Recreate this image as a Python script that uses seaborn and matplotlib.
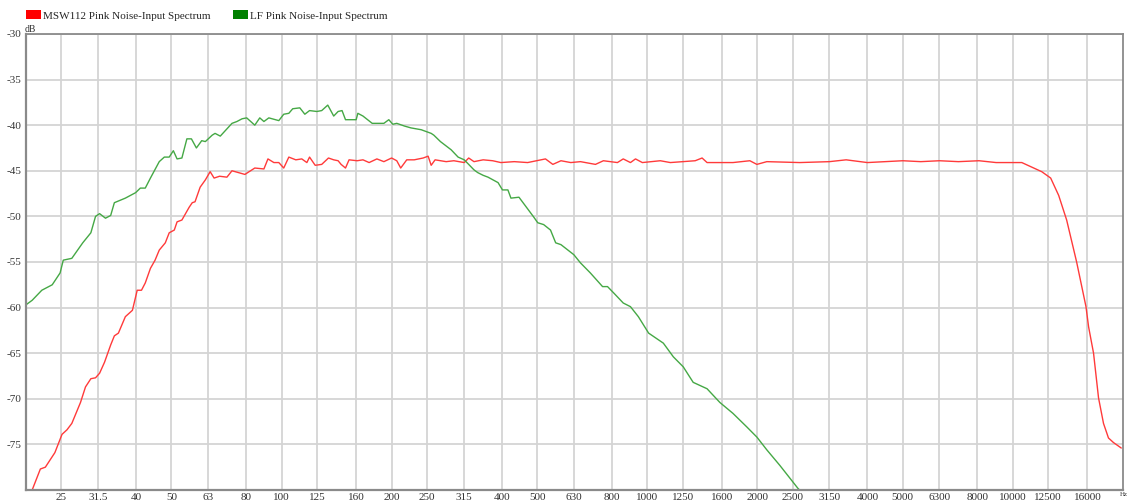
import numpy as np
import pandas as pd
import matplotlib
matplotlib.use('Agg')
import matplotlib.pyplot as plt
from matplotlib.patches import Patch
import seaborn as sns

RED_NAME = 'MSW112 Pink Noise-Input Spectrum'
GREEN_NAME = 'LF Pink Noise-Input Spectrum'

# frequency (Hz) / level (dB)
red_freq = [20.2, 20.8, 21.9, 22.6, 24.0, 25.1, 25.9, 26.7, 28.2, 29.1, 30.1, 31.0,
            31.8, 32.8, 34.1, 34.9, 35.8, 37.4, 38.6, 39.1, 40.3, 41.4, 42.4, 43.8,
            45.1, 46.3, 48.1, 49.3, 50.9, 51.8, 53.4, 55.9, 57.0, 58.0, 59.9, 61.9,
            63.8, 65.4, 67.7, 70.9, 73.2, 79.4, 84.5, 89.5, 91.8, 95.3, 98.3, 101.4,
            104.7, 109.4, 113.6, 117.3, 119.3, 123.6, 128.8, 134.4, 138.9, 142.8,
            145.5, 149.6, 153.0, 161, 167, 173.6, 182.3, 190.5, 200, 206.6, 211.8,
            220, 230.6, 244, 251.7, 256.6, 263, 282, 296, 316, 325, 336, 356, 378,
            398, 433, 471, 527, 552, 581, 618, 657, 722, 759, 829, 860, 900, 929,
            970, 1086, 1157, 1255, 1353, 1413, 1458, 1716, 1909, 1995, 2124, 2613,
            3150, 3500, 4000, 4500, 5000, 5600, 6300, 7100, 8080, 9000, 10580,
            11265, 11995, 12690, 13345, 14033, 14942, 15849, 16110, 16622, 17152,
            17697, 18261, 18845, 19790]
red_db = [-81.5, -80.0, -77.7, -77.5, -75.9, -73.9, -73.4, -72.7, -70.4, -68.7, -67.8, -67.7,
          -67.2, -66.0, -64.1, -63.1, -62.8, -61.0, -60.5, -60.3, -58.1, -58.1, -57.3, -55.7,
          -54.8, -53.7, -52.9, -51.8, -51.5, -50.6, -50.4, -49.0, -48.5, -48.4, -46.8, -46.0,
          -45.1, -45.8, -45.6, -45.7, -45.0, -45.4, -44.7, -44.8, -43.7, -44.1, -44.1, -44.7,
          -43.5, -43.8, -43.7, -44.1, -43.5, -44.4, -44.3, -43.6, -43.8, -43.9,
          -44.3, -44.7, -43.8, -43.9, -43.8, -44.1, -43.7, -44.0, -43.6, -43.9, -44.7,
          -43.8, -43.8, -43.6, -43.4, -44.4, -43.8, -44.0, -43.9, -44.1, -43.6, -44.0, -43.8, -43.9,
          -44.1, -44.0, -44.1, -43.7, -44.3, -43.9, -44.1, -44.0, -44.3, -43.9, -44.1, -43.7, -44.1, -43.7,
          -44.1, -43.9, -44.1, -44.0, -43.9, -43.6, -44.1, -44.1, -43.9, -44.3, -44.0, -44.1,
          -44.0, -43.8, -44.1, -44.0, -43.9, -44.0, -43.9, -44.0, -43.9, -44.1, -44.1,
          -44.6, -45.1, -45.8, -47.7, -50.4, -55.0, -59.9, -62.1, -65.0, -69.9,
          -72.7, -74.3, -74.8, -75.4]

green_freq = [20.0, 20.8, 22.1, 23.6, 24.8, 25.3, 26.7, 28.6, 30.1, 31.0, 31.8, 33.0,
              34.1, 34.9, 37.4, 39.9, 41.1, 42.4, 43.8, 46.3, 47.8, 49.3, 50.6, 51.8,
              53.4, 55.1, 56.7, 58.5, 60.5, 61.9, 64.6, 65.8, 68.0, 73.2, 75.5, 78.0,
              80.3, 84.5, 87.2, 89.5, 92.3, 98.3, 101.4, 104.7, 107.3, 112.2, 115.8,
              119.3, 124.9, 128.8, 133.8, 138.9, 142.8, 146.4, 149.6, 160, 161.7, 167,
              177, 190.5, 196.5, 201.5, 206.6, 217, 226, 241, 256.6, 261, 272, 291, 304,
              316, 336, 344, 356, 367, 391, 402, 416, 424, 446, 490, 502, 521, 544, 562,
              581, 630, 657, 699, 755, 779, 810, 860, 900, 946, 1009, 1107, 1179, 1255,
              1336, 1458, 1580, 1716, 1874, 1995, 2124, 2305, 2581, 2700]
green_db = [-59.7, -59.2, -58.1, -57.5, -56.2, -54.8, -54.6, -52.9, -51.8, -50.0, -49.7, -50.2,
            -49.9, -48.5, -48.0, -47.4, -46.9, -46.9, -45.8, -44.0, -43.5, -43.5, -42.8, -43.7,
            -43.6, -41.5, -41.5, -42.5, -41.7, -41.8, -41.1, -40.9, -41.2, -39.8, -39.6, -39.3,
            -39.2, -40.0, -39.2, -39.6, -39.2, -39.5, -38.8, -38.7, -38.2, -38.1, -38.8,
            -38.4, -38.5, -38.4, -37.8, -39.0, -38.5, -38.4, -39.4, -39.4, -38.7, -39.0,
            -39.8, -39.8, -39.4, -39.9, -39.8, -40.1, -40.3, -40.5, -40.9, -41.1, -41.8, -42.7, -43.5,
            -43.8, -44.9, -45.2, -45.5, -45.7, -46.3, -47.1, -47.1, -48.0, -47.9, -50.1, -50.7, -50.9, -51.5, -52.9,
            -53.1, -54.2, -55.1, -56.2, -57.7, -57.7, -58.4, -59.5, -59.9, -61.0, -62.8, -63.9, -65.4, -66.5,
            -68.2, -68.9, -70.4, -71.6, -73.1, -74.2, -75.6, -77.3, -79.8, -80.6]

xtick_vals = [25, 31.5, 40, 50, 63, 80, 100, 125, 160, 200, 250, 315, 400, 500, 630,
              800, 1000, 1250, 1600, 2000, 2500, 3150, 4000, 5000, 6300, 8000, 10000,
              12500, 16000]
ytick_vals = [-30, -35, -40, -45, -50, -55, -60, -65, -70, -75]

df = pd.concat([
    pd.DataFrame({'freq': red_freq, 'db': red_db, 'serie': RED_NAME}),
    pd.DataFrame({'freq': green_freq, 'db': green_db, 'serie': GREEN_NAME}),
])

sns.set_theme(style='white')
plt.rcParams['font.family'] = ['Liberation Serif', 'DejaVu Serif']

GRID = '#d4d4d4'
EDGE = '#8a8a8a'
palette = {RED_NAME: '#ff3a3a', GREEN_NAME: '#45a845'}

fig = plt.figure(figsize=(11.28, 5.01), dpi=100, facecolor='white')
ax = fig.add_axes([0.0230, 0.0220, 0.9725, 0.9102])

sns.lineplot(data=df, x='freq', y='db', hue='serie', palette=palette,
             sort=False, estimator=None, linewidth=1.0, legend=False, ax=ax)

ax.set_xscale('log')
ax.set_xlim(20, 20000)
ax.set_ylim(-80, -30)
ax.set_xticks(xtick_vals)
ax.set_xticklabels([f'{v:g}' for v in xtick_vals])
ax.set_yticks(ytick_vals)
ax.set_yticklabels([f'{v}' for v in ytick_vals])
ax.minorticks_off()
ax.tick_params(axis='both', length=0, labelsize=8, colors='#333333')
ax.tick_params(axis='x', pad=2)
ax.tick_params(axis='y', pad=3)
ax.set_xlabel('')
ax.set_ylabel('')
ax.grid(True, color=GRID, linewidth=1.3)
ax.set_axisbelow(True)
for side, sp in ax.spines.items():
    sp.set_visible(True)
    sp.set_color(EDGE)
    sp.set_linewidth(1.6 if side in ('left', 'bottom') else 1.3)

fig.text(25 / 1128, 1 - 29 / 501, 'dB', fontsize=7, color='#333333', va='center', ha='left')
fig.text(1127.5 / 1128, 1 - 495 / 501, 'Hz', fontsize=5, color='#333333', va='center', ha='right')

handles = [Patch(facecolor='#ff0000', edgecolor='none', label=RED_NAME),
           Patch(facecolor='#008000', edgecolor='none', label=GREEN_NAME)]
fig.legend(handles=handles, loc='upper left', bbox_to_anchor=(0.017, 0.993), ncol=2,
           frameon=False, fontsize=8, handlelength=1.4, handleheight=0.9,
           handletextpad=0.15, columnspacing=2.0, borderaxespad=0.2)

fig.savefig('out.png', dpi=100, facecolor='white')
plt.close(fig)
